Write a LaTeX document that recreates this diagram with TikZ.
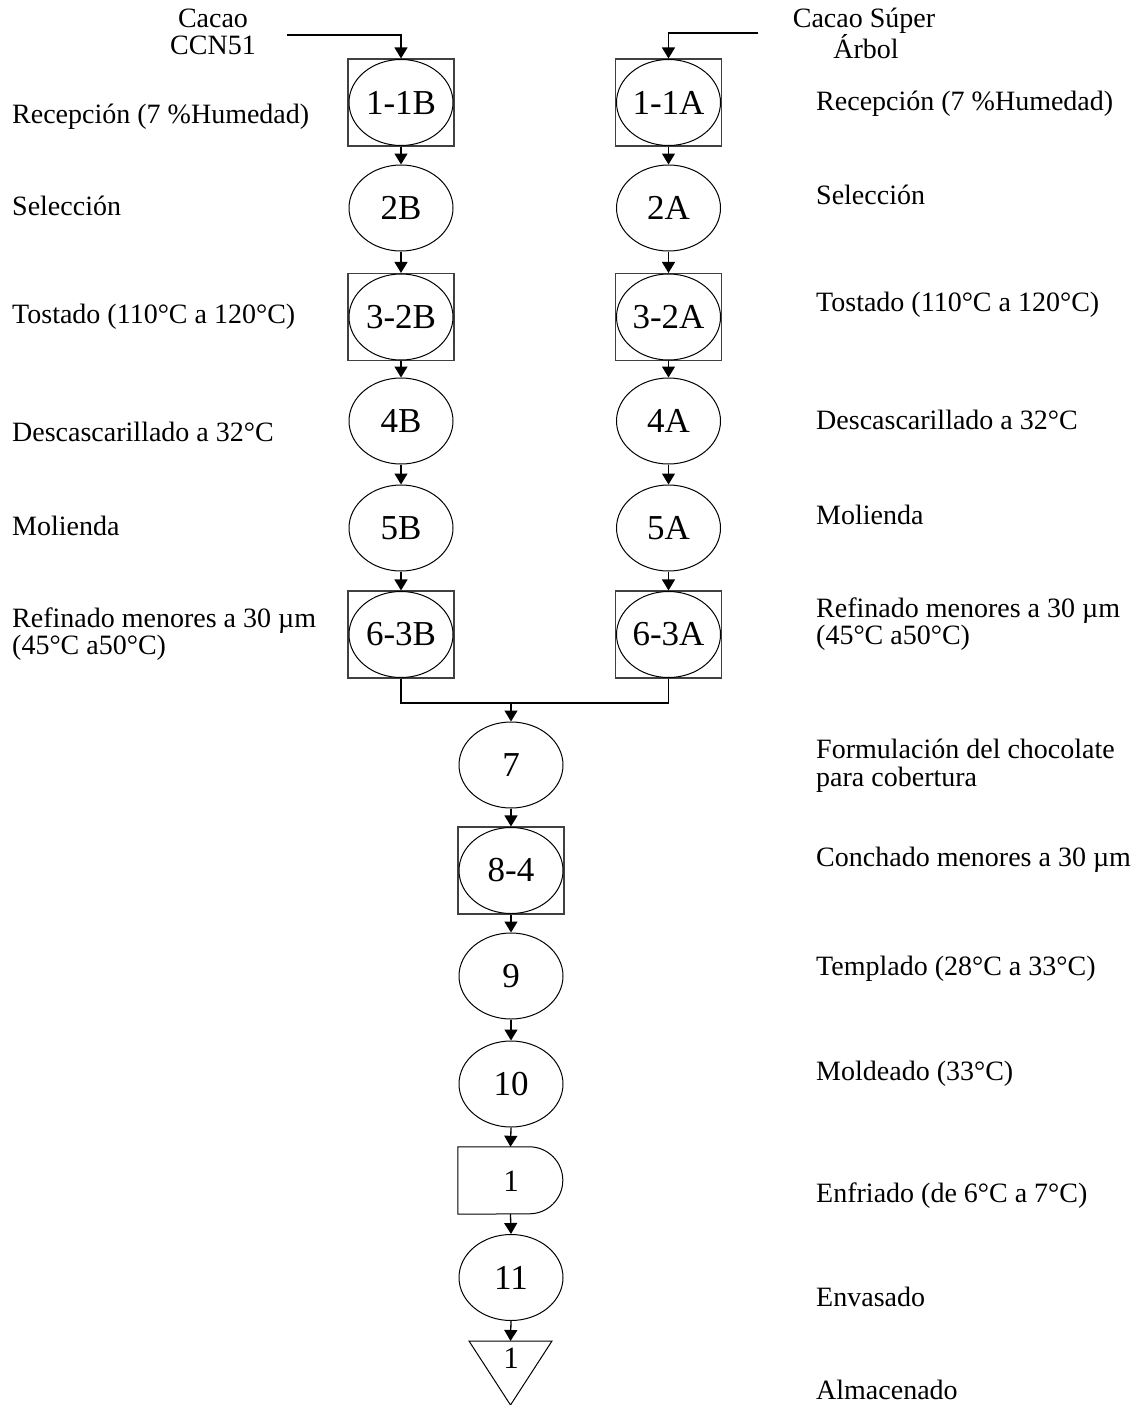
\documentclass[tikz,border=0pt]{standalone}
\usepackage{fontspec}
\setmainfont{Liberation Serif}
\usetikzlibrary{shapes.geometric,arrows.meta}
\newcommand\twoln[3]{\vtop{\baselineskip=#1\lineskiplimit=-100pt\hbox{#2}\hbox{#3}}}
\newcommand\twoctr[3]{\vtop{\baselineskip=#1\lineskiplimit=-100pt\halign{\hfil##\hfil\cr #2\cr #3\cr}}}
\begin{document}
\begin{tikzpicture}[x=1pt,y=-1pt,
  lbl/.style={anchor=base west,inner sep=0pt,font=\fontsize{28}{30}\selectfont},
  top/.style={anchor=base,inner sep=0pt,font=\fontsize{28}{30}\selectfont},
  op/.style={ellipse,draw,line width=1pt,minimum width=104pt,minimum height=86pt,inner sep=0pt,font=\fontsize{35}{38}\selectfont},
  insp/.style={rectangle,draw=black!75,line width=1.1pt,minimum width=106pt,minimum height=87pt,inner sep=0pt},
  arr/.style={-{Triangle[length=11pt,width=13pt]},line width=1.3pt},
  ln/.style={line width=1.3pt},
  sym/.style={inner sep=0pt,font=\fontsize{31}{34}\selectfont}]
\useasboundingbox (0,0) rectangle (1141,1405);

% inputs
\node[top] (inB) at (213,27.5) {\twoctr{27.5pt}{Cacao}{CCN51}};
\node[top] (inA) at (864,27.5) {\twoctr{31pt}{Cacao Súper}{\hspace{4pt}Árbol}};
\coordinate (sB) at (287,35);
\coordinate (sA) at (758,33);

% left column (B)
\node[insp] (b1r) at (401,102.5) {};
\node[op] (b1) at (401,102.5) {1-1B};
\node[op] (b2) at (401,208) {2B};
\node[insp] (b3r) at (401,317) {};
\node[op] (b3) at (401,317) {3-2B};
\node[op] (b4) at (401,421) {4B};
\node[op] (b5) at (401,528) {5B};
\node[insp] (b6r) at (401,634.5) {};
\node[op] (b6) at (401,634.5) {6-3B};

% right column (A)
\node[insp] (a1r) at (668.5,102.5) {};
\node[op] (a1) at (668.5,102.5) {1-1A};
\node[op] (a2) at (668.5,208) {2A};
\node[insp] (a3r) at (668.5,317) {};
\node[op] (a3) at (668.5,317) {3-2A};
\node[op] (a4) at (668.5,421) {4A};
\node[op] (a5) at (668.5,528) {5A};
\node[insp] (a6r) at (668.5,634.5) {};
\node[op] (a6) at (668.5,634.5) {6-3A};

% centre column
\coordinate (m) at (511,703);
\node[op] (n7) at (511,765) {7};
\node[insp] (n8r) at (511,870.5) {};
\node[op] (n8) at (511,870.5) {8-4};
\node[op] (n9) at (511,976) {9};
\node[op] (n10) at (511,1084) {10};
\node[inner sep=0pt,minimum width=105pt,minimum height=67pt] (d) at (510.5,1180.5) {};
\draw[line width=1pt] (d.north west) -- ++(71.5,0) arc (-90:90:33.5) -- (d.south west) -- cycle;
\node[sym] (d1) at (511,1181) {1};
\node[op] (n11) at (511,1277.5) {11};
\coordinate (tri) at (510.5,1341);
\draw[line width=1pt] (tri) ++(-41.5,0) -- ++(83,0) -- (510.5,1405) -- cycle;
\node[sym] (t1) at (511,1358) {1};

% connectors
\draw[arr] (sB) -| (b1r.north);
\draw[arr] (sA) -| (a1r.north);
\draw[arr] (b1r.south) -- (b2.north);
\draw[arr] (b2.south) -- (b3r.north);
\draw[arr] (b3r.south) -- (b4.north);
\draw[arr] (b4.south) -- (b5.north);
\draw[arr] (b5.south) -- (b6r.north);
\draw[arr] (a1r.south) -- (a2.north);
\draw[arr] (a2.south) -- (a3r.north);
\draw[arr] (a3r.south) -- (a4.north);
\draw[arr] (a4.south) -- (a5.north);
\draw[arr] (a5.south) -- (a6r.north);
\draw[ln] (b6r.south) |- (m) -| (a6r.south);
\draw[arr] (m) -- (n7.north);
\draw[arr] (n7.south) -- (n8r.north);
\draw[arr] (n8r.south) -- (n9.north);
\draw[arr] (n9.south) -- (n10.north);
\draw[arr] (n10.south) -- (d.north);
\draw[arr] (d.south) -- (n11.north);
\draw[arr] (n11.south) -- (tri);

% left labels
\node[lbl] (lb1) at (12,123.3) {Recepción (7 \%Humedad)};
\node[lbl] (lb2) at (12,215) {Selección};
\node[lbl] (lb3) at (12,323) {Tostado (110°C a 120°C)};
\node[lbl] (lb4) at (12,441.7) {Descascarillado a 32°C};
\node[lbl] (lb5) at (12,535.7) {Molienda};
\node[lbl] (lb6) at (12,627) {\twoln{27.5pt}{Refinado menores a 30 µm}{(45°C a50°C)}};

% right labels
\node[lbl] (la1) at (816,110.7) {Recepción (7 \%Humedad)};
\node[lbl] (la2) at (816,204) {Selección};
\node[lbl] (la3) at (816,311.7) {Tostado (110°C a 120°C)};
\node[lbl] (la4) at (816,429.3) {Descascarillado a 32°C};
\node[lbl] (la5) at (816,524) {Molienda};
\node[lbl] (la6) at (816,617) {\twoln{27.5pt}{Refinado menores a 30 µm}{(45°C a50°C)}};
\node[lbl] (l7) at (816,758.5) {\twoln{27.5pt}{Formulación del chocolate}{para cobertura}};
\node[lbl] (l8) at (816,866.7) {Conchado menores a 30 µm};
\node[lbl] (l9) at (816,975) {Templado (28°C a 33°C)};
\node[lbl] (l10) at (816,1080.7) {Moldeado (33°C)};
\node[lbl] (ld) at (816,1202.7) {Enfriado (de 6°C a 7°C)};
\node[lbl] (l11) at (816,1306) {Envasado};
\node[lbl] (lt) at (816,1399.3) {Almacenado};
\end{tikzpicture}
\end{document}
